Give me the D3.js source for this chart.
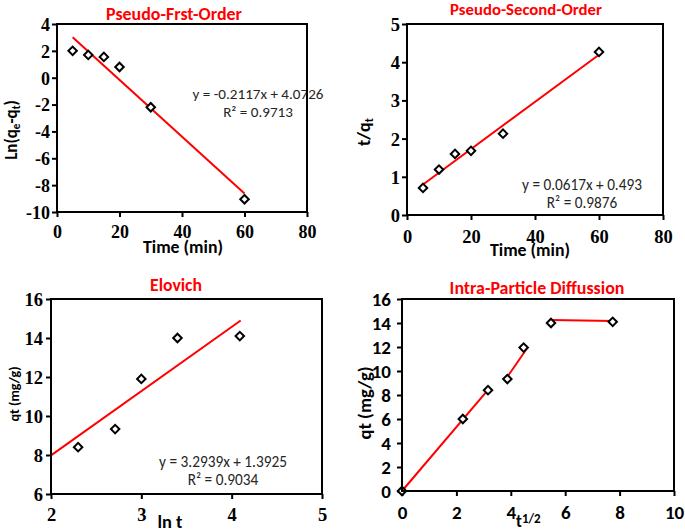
<!DOCTYPE html>
<html>
<head>
<meta charset="utf-8">
<script src="https://cdn.jsdelivr.net/npm/d3@7"></script>
<style>
  html, body { margin: 0; padding: 0; background: #fff; }
  svg { display: block; }
</style>
</head>
<body>
<svg id="chart" width="685" height="532"></svg>
<script>
// ---------------- DATA ----------------
// Pseudo-first-order
const pfoTime = [5, 10, 15, 20, 30, 60];
const pfoLn = [2.0, 1.7, 1.55, 0.8, -2.2, -9.05];
const pfoFitX = [5, 60];
const pfoFitY = [3.01, -8.63];
const pfoEq = "y = -0.2117x + 4.0726";
const pfoR2 = "R² = 0.9713";

// Pseudo-second-order
const psoTime = [5, 10, 15, 20, 30, 60];
const psoTq = [0.71, 1.19, 1.6, 1.68, 2.13, 4.27];
const psoFitX = [5, 60];
const psoFitY = [0.80, 4.195];
const psoEq = "y = 0.0617x + 0.493";
const psoR2 = "R² = 0.9876";

// Elovich
const eloLnT = [2.30, 2.71, 3.0, 3.40, 4.09];
const eloQt = [8.4, 9.33, 11.9, 14.0, 14.1];
const eloFitX = [2, 4.1];
const eloFitY = [7.98, 14.9];
const eloEq = "y = 3.2939x + 1.3925";
const eloR2 = "R² = 0.9034";

// Intra-particle diffusion
const ipdSqrtT = [0, 2.236, 3.162, 3.873, 4.472, 5.477, 7.746];
const ipdQt = [0, 6.0, 8.4, 9.33, 11.95, 14.0, 14.1];
const ipdSeg1X = [0, 3.17];
const ipdSeg1Y = [0, 8.45];
const ipdSeg2X = [3.9, 4.63];
const ipdSeg2Y = [9.6, 12.0];
const ipdSeg3X = [5.48, 7.77];
const ipdSeg3Y = [14.25, 14.17];

// Tick labels
const ticksTimeX = [0, 20, 40, 60, 80];
const ticksPfoY = [-10, -8, -6, -4, -2, 0, 2, 4];
const ticksPsoY = [0, 1, 2, 3, 4, 5];
const ticksEloX = [2, 3, 4, 5];
const ticksEloY = [6, 8, 10, 12, 14, 16];
const ticksIpdX = [0, 2, 4, 6, 8, 10];
const ticksIpdY = [0, 2, 4, 6, 8, 10, 12, 14, 16];

// Titles
const titles = ["Pseudo-Frst-Order", "Pseudo-Second-Order", "Elovich", "Intra-Particle Diffussion"];

// ---------------- DRAW ----------------
const svg = d3.select("#chart");
const RED = "#ff0000";
const SERIF = "Liberation Serif";
const SANS = "Carlito";

function zip(a, b) { return a.map((v, i) => [v, b[i]]); }

// scale a text's font size so that it spans the given width
function fit(sel, w) {
  const fs = parseFloat(sel.style("font-size"));
  const len = sel.node().getComputedTextLength();
  if (len > 0) sel.style("font-size", (fs * w / len) + "px");
  return sel;
}

function label(parent, x, y, str, size, w, opts = {}) {
  const t = parent.append("text").attr("x", x).attr("y", y)
    .attr("text-anchor", opts.anchor || "middle")
    .attr("font-family", SANS)
    .style("font-family", SANS).style("font-weight", opts.weight || "bold")
    .style("font-size", size + "px").attr("fill", opts.fill || "#000").text(str);
  if (w) fit(t, w);
  return t;
}

function panel(cfg) {
  const x = d3.scaleLinear().domain(cfg.xDomain).range([cfg.left, cfg.right]);
  const y = d3.scaleLinear().domain(cfg.yDomain).range([cfg.bottom, cfg.top]);
  const g = svg.append("g");

  // axes
  const xa = g.append("g").attr("transform", `translate(0,${cfg.bottom})`)
    .call(d3.axisBottom(x).tickValues(cfg.xTicks).tickSize(5).tickSizeOuter(0).tickFormat(d => String(d)));
  const ya = g.append("g").attr("transform", `translate(${cfg.left},0)`)
    .call(d3.axisLeft(y).tickValues(cfg.yTicks).tickSize(5).tickSizeOuter(0).tickFormat(d => String(d)));
  [xa, ya].forEach(a => {
    a.attr("font-family", cfg.tickFont).attr("font-size", cfg.tickSize).attr("font-weight", "bold");
    a.select(".domain").remove();
    a.selectAll("line").attr("stroke", "#000").attr("stroke-width", 2);
    a.selectAll("text").attr("fill", "#000")
      .attr("font-family", cfg.tickFont)
      .style("font-family", cfg.tickFont).style("font-weight", "bold")
      .style("font-size", cfg.tickSize + "px");
  });
  xa.selectAll("text").attr("dy", null).attr("y", cfg.xLabelBase);
  ya.selectAll("text").attr("dy", "0.35em").attr("x", -cfg.yLabelGap);

  // fit lines
  cfg.lines.forEach(l => {
    g.append("path").datum(zip(l[0], l[1]))
      .attr("d", d3.line().x(d => x(d[0])).y(d => y(d[1])))
      .attr("fill", "none").attr("stroke", RED).attr("stroke-width", 2);
  });

  // equation text
  if (cfg.eq) {
    const t1 = label(g, cfg.eqX, cfg.eqY, cfg.eq, 14, cfg.eqW, { weight: "normal", fill: "#262626" });
    label(g, cfg.eqX, cfg.eqY + 17.5, cfg.r2, 14, null, { weight: "normal", fill: "#262626" })
      .style("font-size", t1.style("font-size"));
  }

  // markers
  const sym = d3.symbol().type(d3.symbolSquare).size(36);
  g.selectAll("path.pt").data(zip(cfg.px, cfg.py)).enter().append("path")
    .attr("class", "pt")
    .attr("d", sym)
    .attr("transform", d => `translate(${x(d[0])},${y(d[1])}) rotate(45)`)
    .attr("fill", "#fff").attr("stroke", "#000").attr("stroke-width", 2);

  // frame
  g.append("rect").attr("x", cfg.left).attr("y", cfg.top)
    .attr("width", cfg.right - cfg.left).attr("height", cfg.bottom - cfg.top)
    .attr("fill", "none").attr("stroke", "#000").attr("stroke-width", 2);

  // title
  label(g, cfg.titleX, cfg.titleY, cfg.title, 17, cfg.titleW, { fill: RED });

  return { g, x, y };
}

// Panel 1
const p1 = panel({
  left: 57, right: 307, top: 24, bottom: 212,
  xDomain: [0, 80], yDomain: [-10, 4], xTicks: ticksTimeX, yTicks: ticksPfoY,
  tickFont: SERIF, tickSize: 18, xLabelBase: 26, yLabelGap: 7,
  lines: [[pfoFitX, pfoFitY]], px: pfoTime, py: pfoLn,
  eq: pfoEq, r2: pfoR2, eqX: 258, eqY: 99, eqW: 131,
  title: titles[0], titleX: 174, titleY: 20, titleW: 136
});
label(p1.g, 183, 253, "Time (min)", 16, 80);
{
  const t = p1.g.append("text").attr("transform", "translate(17,130) rotate(-90)")
    .attr("text-anchor", "middle").style("font-family", SANS).style("font-weight", "bold").style("font-size", "17px");
  t.append("tspan").text("Ln(q");
  t.append("tspan").style("font-size", "11px").attr("dy", 3).text("e");
  t.append("tspan").attr("dy", -3).text("-q");
  t.append("tspan").style("font-size", "11px").attr("dy", 3).text("t");
  t.append("tspan").attr("dy", -3).text(")");
}

// Panel 2
const p2 = panel({
  left: 407, right: 663, top: 24, bottom: 215,
  xDomain: [0, 80], yDomain: [0, 5], xTicks: ticksTimeX, yTicks: ticksPsoY,
  tickFont: SERIF, tickSize: 18.5, xLabelBase: 28, yLabelGap: 7,
  lines: [[psoFitX, psoFitY]], px: psoTime, py: psoTq,
  eq: psoEq, r2: psoR2, eqX: 582, eqY: 190, eqW: 120,
  title: titles[1], titleX: 526, titleY: 15, titleW: 152
});
label(p2.g, 530, 256, "Time (min)", 16, 80);
{
  const t = p2.g.append("text").attr("transform", "translate(370,132) rotate(-90)")
    .attr("text-anchor", "middle").style("font-family", SANS).style("font-weight", "bold").style("font-size", "18px");
  t.append("tspan").text("t/q");
  t.append("tspan").style("font-size", "12px").attr("dy", 3).text("t");
}

// Panel 3
const p3 = panel({
  left: 51, right: 322, top: 299, bottom: 494,
  xDomain: [2, 5], yDomain: [6, 16], xTicks: ticksEloX, yTicks: ticksEloY,
  tickFont: SERIF, tickSize: 18.5, xLabelBase: 27, yLabelGap: 8,
  lines: [[eloFitX, eloFitY]], px: eloLnT, py: eloQt,
  eq: eloEq, r2: eloR2, eqX: 223, eqY: 467, eqW: 128,
  title: titles[2], titleX: 176, titleY: 291, titleW: 52
});
label(p3.g, 170, 528, "ln t", 17, 25);
label(p3.g, 0, 0, "qt (mg/g)", 15, 55).attr("x", null).attr("y", null)
  .attr("transform", "translate(19,394) rotate(-90)");

// Panel 4
const p4 = panel({
  left: 402, right: 674, top: 299, bottom: 491,
  xDomain: [0, 10], yDomain: [0, 16], xTicks: ticksIpdX, yTicks: ticksIpdY,
  tickFont: SANS, tickSize: 19, xLabelBase: 28, yLabelGap: 11,
  lines: [[ipdSeg1X, ipdSeg1Y], [ipdSeg2X, ipdSeg2Y], [ipdSeg3X, ipdSeg3Y]],
  px: ipdSqrtT, py: ipdQt,
  title: titles[3], titleX: 537, titleY: 294, titleW: 175
});
{
  const t = p4.g.append("text").attr("x", 516).attr("y", 527)
    .style("font-family", SANS).style("font-weight", "bold").style("font-size", "17px");
  t.append("tspan").text("t");
  t.append("tspan").style("font-size", "13px").attr("dy", -4).text("1/2");
}
label(p4.g, 0, 0, "qt (mg/g)", 18, 73).attr("x", null).attr("y", null)
  .attr("transform", "translate(371,403) rotate(-90)");
</script>
</body>
</html>
